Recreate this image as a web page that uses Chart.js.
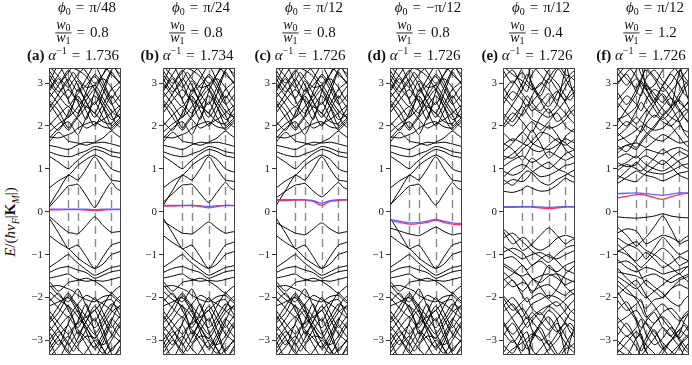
<!DOCTYPE html>
<html><head><meta charset="utf-8">
<script src="https://cdn.jsdelivr.net/npm/chart.js@4.4.1/dist/chart.umd.min.js"></script>
<style>
html,body{margin:0;padding:0;background:#fff;width:692px;height:365px;overflow:hidden;position:relative;}
canvas{position:absolute;top:0;}
#ylab{position:absolute;left:11px;top:222px;transform:translate(-50%,-50%) rotate(-90deg);font-family:"Liberation Serif","DejaVu Serif",serif;font-size:15px;white-space:nowrap;color:#111;}
#ylab sub{font-size:10px;}
</style></head><body>
<div id="ylab"><i>E</i>/(<i>ħv</i><sub><i>F</i></sub>|<b>K</b><sub><i>M</i></sub>|)</div>
<script>
// ---- axis data ----
const KPOS = [0, 0.268, 0.402, 0.634, 0.866, 1];
const KLAB = ['Γ', 'K', 'M', 'Γ', '-M', '-K'];
const XS = [0, 0.134, 0.268, 0.335, 0.402, 0.518, 0.634, 0.75, 0.866, 0.933, 1];
const YTICKS = [-3, -2, -1, 0, 1, 2, 3];
// ---- panel parameters ----
const LETTERS = ['a', 'b', 'c', 'd', 'e', 'f'];
const PHI = ['π/48', 'π/24', 'π/12', '−π/12', 'π/12', 'π/12'];
const RATIO = ['0.8', '0.8', '0.8', '0.8', '0.4', '1.2'];
const ALPHA = ['1.736', '1.734', '1.726', '1.726', '1.726', '1.726'];

// ---- bands shared by panels a-d ----
const abcd_c2 = [0.14, 0.50, 0.85, 0.80, 0.74, 1.00, 1.28, 1.00, 0.74, 0.72, 0.70];
const abcd_c3 = [0.55, 0.72, 0.85, 0.95, 1.08, 1.22, 1.32, 1.22, 1.00, 0.95, 0.92];
const abcd_c4 = [1.30, 1.15, 1.00, 1.10, 1.20, 1.35, 1.45, 1.40, 1.30, 1.28, 1.25];
const abcd_c5 = [1.40, 1.32, 1.28, 1.30, 1.35, 1.42, 1.52, 1.48, 1.40, 1.38, 1.36];
const abcd_c6 = [1.55, 1.50, 1.45, 1.50, 1.56, 1.62, 1.60, 1.62, 1.58, 1.55, 1.52];
const abcd_c7 = [1.62, 1.85, 1.65, 1.62, 1.60, 1.55, 1.62, 1.72, 1.88, 1.80, 1.72];
const abcd_c8 = [1.70, 1.95, 2.10, 1.95, 1.80, 2.20, 2.55, 2.20, 1.90, 2.00, 2.10];
const abcd_c9 = [2.10, 1.90, 2.30, 2.50, 2.70, 2.35, 2.00, 2.35, 2.70, 2.55, 2.40];
const abcd_c10 = [2.40, 2.75, 3.10, 2.95, 2.80, 3.10, 3.40, 3.05, 2.65, 2.80, 2.95];
const abcd_c11 = [2.80, 2.50, 2.20, 2.50, 2.85, 2.55, 2.30, 2.75, 3.25, 3.10, 2.95];
const abcd_c12 = [2.80, 3.10, 2.60, 2.40, 2.30, 2.60, 2.85, 2.55, 2.25, 2.05, 1.95];
const abcd_c13 = [2.85, 3.20, 3.50, 3.35, 3.30, 3.15, 2.85, 2.45, 2.00, 2.10, 2.20];
const abcd_c14 = [3.20, 2.90, 2.65, 2.85, 3.05, 2.75, 2.50, 2.90, 3.30, 3.40, 3.50];
const abcd_c15 = [2.00, 2.25, 2.45, 2.30, 2.15, 1.95, 2.05, 2.15, 2.30, 2.40, 2.50];
const abcd_c16 = [3.40, 3.15, 2.90, 3.05, 3.20, 3.40, 3.60, 3.45, 3.20, 3.10, 3.00];
const abcd_c17 = [2.60, 2.35, 1.95, 2.10, 2.25, 2.80, 3.20, 2.95, 2.55, 2.30, 2.15];
const abcd_c18 = [3.00, 3.40, 3.00, 2.75, 2.55, 2.15, 2.80, 3.20, 3.55, 3.30, 3.10];
const abcd_c19 = [1.85, 2.05, 2.20, 2.30, 2.45, 2.70, 2.95, 2.65, 2.35, 2.25, 2.20];
const abcd_c20 = [2.30, 2.60, 2.85, 2.70, 2.60, 2.45, 2.30, 2.10, 2.05, 2.25, 2.45];
const abcd_c21 = [3.00, 2.70, 2.45, 2.60, 2.75, 2.95, 3.15, 2.85, 2.50, 2.60, 2.75];
const abcd_c22 = [3.30, 3.00, 3.25, 3.40, 3.50, 3.25, 3.00, 3.20, 3.45, 3.30, 3.20];
const abcd_c23 = [2.65, 2.95, 3.30, 3.15, 2.95, 2.55, 2.20, 2.50, 2.85, 2.95, 3.05];
const abcd_c24 = [1.75, 1.72, 1.80, 1.85, 1.95, 2.05, 2.10, 1.98, 1.95, 2.05, 2.15];
const abcd_c25 = [2.55, 2.20, 1.90, 2.05, 2.20, 2.45, 2.70, 2.45, 2.15, 2.20, 2.30];
const abcd_c26 = [3.10, 2.80, 3.05, 3.25, 3.10, 2.90, 2.95, 3.10, 2.90, 2.70, 2.55];
const abcd_v2 = [-0.14, -0.50, -0.86, -0.82, -0.78, -1.05, -1.32, -1.05, -0.78, -0.74, -0.70];
const abcd_v3 = [-0.55, -0.72, -0.86, -0.96, -1.08, -1.22, -1.32, -1.22, -1.00, -0.96, -0.92];
const abcd_v4 = [-1.30, -1.15, -1.00, -1.10, -1.20, -1.35, -1.48, -1.40, -1.30, -1.28, -1.25];
const abcd_v5 = [-1.42, -1.32, -1.28, -1.32, -1.36, -1.42, -1.55, -1.48, -1.40, -1.38, -1.36];
const abcd_v6 = [-1.55, -1.50, -1.45, -1.52, -1.58, -1.62, -1.60, -1.62, -1.58, -1.55, -1.52];
const abcd_v7 = [-1.62, -1.85, -1.65, -1.62, -1.60, -1.55, -1.62, -1.75, -1.90, -1.80, -1.72];
const abcd_v8 = [-1.70, -1.95, -2.10, -1.95, -1.80, -2.20, -2.55, -2.20, -1.90, -2.00, -2.10];
const abcd_v9 = [-2.10, -1.90, -2.30, -2.50, -2.70, -2.35, -2.00, -2.35, -2.70, -2.55, -2.40];
const abcd_v10 = [-2.40, -2.75, -3.10, -2.95, -2.80, -3.10, -3.40, -3.05, -2.65, -2.80, -2.95];
const abcd_v11 = [-2.80, -2.50, -2.20, -2.50, -2.85, -2.55, -2.30, -2.75, -3.25, -3.10, -2.95];
const abcd_v12 = [-2.80, -3.10, -2.60, -2.40, -2.30, -2.60, -2.85, -2.55, -2.25, -2.05, -1.95];
const abcd_v13 = [-2.20, -2.10, -2.00, -2.15, -2.35, -2.70, -3.05, -3.30, -3.00, -2.80, -2.60];
const abcd_v14 = [-3.20, -2.90, -2.65, -2.85, -3.05, -2.75, -2.50, -2.90, -3.30, -3.40, -3.50];
const abcd_v15 = [-2.00, -2.25, -2.45, -2.30, -2.15, -1.95, -2.05, -2.15, -2.30, -2.40, -2.50];
const abcd_v16 = [-3.40, -3.15, -2.90, -3.05, -3.20, -3.40, -3.60, -3.45, -3.20, -3.10, -3.00];
const abcd_v17 = [-2.60, -2.35, -1.95, -2.10, -2.25, -2.80, -3.20, -2.95, -2.55, -2.30, -2.15];
const abcd_v18 = [-3.00, -3.40, -3.00, -2.75, -2.55, -2.15, -2.80, -3.20, -3.55, -3.30, -3.10];
const abcd_v19 = [-1.85, -2.05, -2.20, -2.30, -2.45, -2.70, -2.95, -2.65, -2.35, -2.25, -2.20];
const abcd_v20 = [-2.30, -2.60, -2.85, -2.70, -2.60, -2.45, -2.30, -2.10, -2.05, -2.25, -2.45];
const abcd_v21 = [-3.00, -2.70, -2.45, -2.60, -2.75, -2.95, -3.15, -2.85, -2.50, -2.60, -2.75];
const abcd_v22 = [-3.30, -3.00, -3.25, -3.40, -3.50, -3.25, -3.00, -3.20, -3.45, -3.30, -3.20];
const abcd_v23 = [-2.65, -2.95, -3.30, -3.15, -2.95, -2.55, -2.20, -2.50, -2.85, -2.95, -3.05];
const abcd_v24 = [-1.75, -1.72, -1.80, -1.85, -1.95, -2.05, -2.10, -1.98, -1.95, -2.05, -2.15];
const abcd_v25 = [-2.55, -2.20, -1.90, -2.05, -2.20, -2.45, -2.70, -2.45, -2.15, -2.20, -2.30];
const abcd_v26 = [-3.10, -2.80, -3.05, -3.25, -3.10, -2.90, -2.95, -3.10, -2.90, -2.70, -2.55];
// lowest bands, per panel
const a_c1 = [0.10, 0.35, 0.60, 0.62, 0.64, 0.37, 0.10, 0.40, 0.68, 0.55, 0.48];
const a_v1 = [-0.10, -0.30, -0.48, -0.50, -0.52, -0.32, -0.12, -0.32, -0.48, -0.47, -0.46];
const b_c1 = [0.22, 0.42, 0.62, 0.63, 0.64, 0.42, 0.22, 0.45, 0.68, 0.56, 0.50];
const b_v1 = [-0.22, -0.36, -0.50, -0.51, -0.52, -0.38, -0.24, -0.38, -0.50, -0.48, -0.46];
const c_c1 = [0.32, 0.48, 0.62, 0.64, 0.66, 0.48, 0.35, 0.50, 0.68, 0.57, 0.52];
const c_v1 = [-0.25, -0.38, -0.50, -0.52, -0.54, -0.40, -0.26, -0.40, -0.50, -0.48, -0.46];
const d_c1 = [0.16, 0.38, 0.60, 0.62, 0.64, 0.40, 0.16, 0.42, 0.68, 0.56, 0.50];
const d_v1 = [-0.38, -0.45, -0.52, -0.54, -0.56, -0.46, -0.36, -0.46, -0.54, -0.52, -0.50];

// ---- panel e bands ----
const e_c1 = [0.48, 0.45, 0.52, 0.60, 0.55, 0.48, 0.50, 0.62, 0.78, 0.72, 0.68];
const e_c2 = [0.75, 0.62, 0.85, 0.95, 0.90, 0.70, 0.62, 0.75, 0.85, 0.92, 0.98];
const e_c3 = [0.80, 1.00, 1.10, 1.05, 0.95, 0.82, 0.85, 0.95, 1.08, 1.10, 1.15];
const e_c4 = [1.05, 1.20, 1.30, 1.22, 1.15, 1.25, 1.40, 1.30, 1.20, 1.25, 1.30];
const e_c5 = [1.30, 1.25, 1.45, 1.55, 1.45, 1.40, 1.55, 1.70, 1.60, 1.50, 1.45];
const e_c6 = [1.55, 1.70, 1.60, 1.55, 1.65, 1.85, 1.80, 1.65, 1.55, 1.62, 1.70];
const e_c7 = [1.85, 1.65, 1.85, 2.00, 2.10, 1.90, 2.10, 2.30, 2.00, 1.90, 1.85];
const e_c8 = [2.00, 2.30, 2.10, 1.95, 1.85, 2.20, 2.40, 2.10, 2.25, 2.40, 2.50];
const e_c9 = [2.30, 2.10, 2.50, 2.70, 2.55, 2.35, 2.60, 2.80, 2.55, 2.35, 2.20];
const e_c10 = [2.50, 2.80, 2.60, 2.45, 2.70, 3.00, 2.85, 2.60, 2.90, 3.10, 3.20];
const e_c11 = [2.90, 2.60, 3.00, 3.20, 3.00, 2.70, 3.10, 3.35, 3.10, 2.90, 2.80];
const e_c12 = [3.10, 3.30, 2.90, 2.80, 3.20, 3.40, 3.20, 3.00, 2.70, 2.60, 2.75];
const e_c13 = [3.30, 3.00, 3.35, 3.50, 2.95, 2.60, 2.30, 2.50, 3.30, 3.45, 3.40];
const e_c14 = [2.15, 2.50, 2.85, 3.10, 3.40, 3.20, 3.00, 3.30, 3.45, 3.00, 2.65];
const e_c15 = [1.60, 1.45, 1.20, 1.35, 1.55, 1.75, 2.00, 1.80, 1.45, 1.35, 1.25];
const e_c16 = [1.95, 2.20, 2.45, 2.30, 2.15, 2.05, 1.95, 2.00, 2.15, 2.30, 2.40];
const e_c17 = [2.70, 2.45, 2.25, 2.40, 2.55, 2.80, 3.10, 2.85, 2.60, 2.70, 2.80];
const e_c18 = [3.40, 3.20, 3.05, 2.95, 2.85, 2.95, 3.30, 3.45, 3.20, 3.15, 3.05];
const e_c19 = [1.20, 1.35, 1.55, 1.70, 1.90, 1.60, 1.25, 1.45, 1.75, 1.85, 1.95];
const e_c20 = [2.60, 2.95, 3.25, 3.05, 2.90, 2.65, 2.45, 2.75, 3.05, 3.20, 3.30];
const e_c21 = [0.95, 0.85, 0.95, 1.10, 1.25, 1.10, 1.00, 1.15, 1.35, 1.40, 1.45];
const e_c22 = [2.20, 2.00, 2.30, 2.50, 2.35, 2.55, 2.75, 2.50, 2.30, 2.15, 2.05];
const e_c23 = [0.62, 0.75, 0.70, 0.78, 0.92, 1.05, 1.15, 1.00, 0.92, 0.85, 0.80];
const e_c24 = [1.40, 1.60, 1.85, 1.75, 1.60, 1.50, 1.45, 1.55, 1.70, 1.65, 1.60];
const e_c25 = [2.80, 3.05, 2.75, 2.60, 2.45, 2.30, 2.20, 2.35, 2.60, 2.80, 2.95];
const e_v1 = [-0.40, -0.60, -0.90, -0.85, -0.75, -0.55, -0.38, -0.55, -0.75, -0.68, -0.62];
const e_v2 = [-0.45, -0.75, -0.60, -0.65, -0.80, -0.90, -0.80, -0.62, -0.55, -0.58, -0.62];
const e_v3 = [-0.80, -0.95, -1.10, -1.05, -1.00, -0.95, -1.05, -1.10, -1.00, -0.95, -0.90];
const e_v4 = [-1.10, -1.05, -1.25, -1.35, -1.25, -1.15, -1.30, -1.40, -1.25, -1.20, -1.15];
const e_v5 = [-1.25, -1.40, -1.50, -1.45, -1.55, -1.65, -1.50, -1.45, -1.55, -1.60, -1.65];
const e_v6 = [-1.55, -1.75, -1.65, -1.70, -1.85, -1.75, -1.70, -1.85, -1.95, -1.85, -1.80];
const e_v7 = [-1.80, -1.60, -1.95, -2.10, -2.00, -1.90, -2.05, -2.20, -2.05, -1.95, -1.90];
const e_v8 = [-2.00, -2.30, -2.10, -2.00, -2.25, -2.40, -2.20, -2.10, -2.35, -2.50, -2.55];
const e_v9 = [-2.35, -2.15, -2.50, -2.70, -2.55, -2.35, -2.60, -2.80, -2.55, -2.35, -2.25];
const e_v10 = [-2.55, -2.85, -2.60, -2.45, -2.75, -3.00, -2.85, -2.60, -2.90, -3.10, -3.20];
const e_v11 = [-2.90, -2.60, -3.00, -3.20, -3.00, -2.70, -3.10, -3.35, -3.10, -2.90, -2.80];
const e_v12 = [-3.10, -3.30, -2.90, -2.80, -3.20, -3.40, -3.20, -3.00, -2.70, -2.60, -2.75];
const e_v13 = [-3.30, -3.00, -3.35, -3.50, -2.95, -2.60, -2.30, -2.50, -3.30, -3.45, -3.40];
const e_v14 = [-2.15, -2.50, -2.85, -3.10, -3.40, -3.20, -3.00, -3.30, -3.45, -3.00, -2.65];
const e_v15 = [-1.60, -1.45, -1.25, -1.40, -1.55, -1.75, -2.00, -1.80, -1.45, -1.35, -1.25];
const e_v16 = [-1.95, -2.20, -2.45, -2.30, -2.15, -2.05, -1.95, -2.00, -2.15, -2.30, -2.40];
const e_v17 = [-2.70, -2.45, -2.25, -2.40, -2.55, -2.80, -3.10, -2.85, -2.60, -2.70, -2.80];
const e_v18 = [-3.40, -3.20, -3.05, -2.95, -2.85, -2.95, -3.30, -3.45, -3.20, -3.15, -3.05];
const e_v19 = [-1.20, -1.35, -1.55, -1.70, -1.90, -1.60, -1.25, -1.45, -1.75, -1.85, -1.95];
const e_v20 = [-2.60, -2.95, -3.25, -3.05, -2.90, -2.65, -2.45, -2.75, -3.05, -3.20, -3.30];
const e_v21 = [-0.95, -0.85, -0.95, -1.10, -1.25, -1.10, -1.00, -1.15, -1.35, -1.40, -1.45];
const e_v22 = [-2.20, -2.00, -2.30, -2.50, -2.35, -2.55, -2.75, -2.50, -2.30, -2.15, -2.05];
const e_v23 = [-0.62, -0.50, -0.70, -0.80, -0.92, -1.05, -1.18, -1.00, -0.85, -0.80, -0.78];
const e_v24 = [-1.40, -1.60, -1.85, -1.75, -1.60, -1.50, -1.45, -1.55, -1.70, -1.65, -1.60];
const e_v25 = [-2.80, -3.05, -2.75, -2.60, -2.45, -2.30, -2.20, -2.35, -2.60, -2.80, -2.95];

// ---- panel f bands ----
const f_c1 = [0.65, 0.80, 0.95, 0.90, 0.85, 0.80, 0.72, 0.80, 0.90, 0.92, 0.95];
const f_c2 = [0.85, 0.75, 0.70, 0.80, 0.90, 1.05, 1.20, 1.05, 0.85, 0.80, 0.75];
const f_c3 = [1.05, 1.15, 1.30, 1.20, 1.10, 1.00, 0.95, 1.05, 1.20, 1.25, 1.30];
const f_c4 = [1.25, 1.35, 1.25, 1.35, 1.45, 1.40, 1.35, 1.45, 1.50, 1.45, 1.40];
const f_c5 = [1.45, 1.55, 1.60, 1.55, 1.50, 1.65, 1.80, 1.70, 1.60, 1.62, 1.65];
const f_c6 = [1.65, 1.75, 1.90, 2.00, 1.85, 1.70, 1.65, 1.80, 2.00, 1.90, 1.85];
const f_c7 = [1.90, 2.10, 1.95, 1.85, 2.05, 2.25, 2.10, 2.00, 2.20, 2.35, 2.40];
const f_c8 = [2.20, 2.00, 2.35, 2.55, 2.40, 2.20, 2.45, 2.65, 2.40, 2.20, 2.10];
const f_c9 = [2.40, 2.70, 2.50, 2.35, 2.60, 2.85, 2.70, 2.45, 2.75, 2.95, 3.05];
const f_c10 = [2.80, 2.50, 2.85, 3.05, 2.85, 2.55, 2.95, 3.20, 2.95, 2.75, 2.65];
const f_c11 = [3.00, 3.20, 2.80, 2.70, 3.10, 3.30, 3.05, 2.85, 2.55, 2.45, 2.60];
const f_c12 = [3.25, 2.95, 3.30, 3.45, 2.90, 2.55, 2.25, 2.45, 3.25, 3.40, 3.35];
const f_c13 = [2.05, 2.40, 2.75, 3.05, 3.35, 3.15, 2.95, 3.25, 3.40, 2.95, 2.55];
const f_c14 = [1.55, 1.40, 1.70, 1.90, 2.20, 2.50, 2.75, 2.45, 2.10, 1.85, 1.70];
const f_c15 = [0.75, 0.95, 1.15, 1.05, 0.95, 0.90, 0.88, 0.95, 1.05, 1.10, 1.12];
const f_c16 = [1.15, 1.05, 1.10, 1.25, 1.30, 1.20, 1.10, 1.25, 1.40, 1.35, 1.30];
const f_c17 = [1.75, 1.95, 2.20, 2.10, 2.00, 1.90, 1.95, 2.15, 2.35, 2.20, 2.05];
const f_c18 = [2.55, 2.30, 2.05, 2.20, 2.35, 2.60, 2.90, 2.65, 2.35, 2.45, 2.55];
const f_c19 = [2.95, 3.25, 3.45, 3.20, 3.00, 2.75, 2.55, 2.80, 3.05, 3.20, 3.35];
const f_c20 = [3.35, 3.10, 2.90, 3.10, 3.30, 3.10, 2.80, 3.00, 3.30, 3.15, 3.00];
const f_c21 = [1.35, 1.55, 1.45, 1.60, 1.75, 1.95, 2.20, 2.00, 1.75, 1.60, 1.50];
const f_c22 = [2.15, 2.25, 2.45, 2.75, 2.95, 2.65, 2.40, 2.20, 2.10, 2.25, 2.35];
const f_c23 = [0.95, 1.10, 1.00, 0.95, 1.05, 1.25, 1.45, 1.30, 1.15, 1.05, 1.00];
const f_c24 = [1.85, 1.65, 1.50, 1.65, 1.80, 2.00, 2.25, 2.45, 2.60, 2.45, 2.30];
const f_c25 = [2.60, 2.85, 3.10, 2.90, 2.70, 2.40, 2.15, 2.35, 2.65, 2.85, 3.00];
const f_c26 = [3.15, 3.40, 3.15, 3.00, 2.85, 2.95, 3.30, 3.45, 3.20, 3.05, 2.95];
const f_v1 = [-0.12, -0.14, -0.15, -0.14, -0.13, -0.10, -0.05, -0.10, -0.13, -0.14, -0.14];
const f_v2 = [-0.35, -0.55, -0.80, -0.70, -0.60, -0.35, -0.10, -0.40, -0.75, -0.70, -0.65];
const f_v3 = [-0.60, -0.75, -0.85, -0.95, -1.10, -0.85, -0.60, -0.80, -1.00, -0.95, -0.90];
const f_v4 = [-0.90, -1.00, -1.15, -1.05, -0.95, -1.10, -1.30, -1.20, -1.05, -1.10, -1.15];
const f_v5 = [-1.10, -1.30, -1.40, -1.35, -1.30, -1.35, -1.45, -1.40, -1.35, -1.30, -1.28];
const f_v6 = [-1.40, -1.45, -1.50, -1.55, -1.50, -1.45, -1.55, -1.65, -1.55, -1.50, -1.45];
const f_v7 = [-1.50, -1.65, -1.80, -1.70, -1.60, -1.75, -1.90, -2.10, -2.20, -2.05, -1.95];
const f_v8 = [-1.70, -1.90, -2.00, -2.10, -2.25, -2.05, -2.00, -1.80, -1.70, -1.75, -1.80];
const f_v9 = [-2.05, -2.30, -2.15, -2.05, -2.40, -2.60, -2.35, -2.25, -2.45, -2.60, -2.70];
const f_v10 = [-2.30, -2.10, -2.50, -2.70, -2.55, -2.35, -2.70, -2.90, -2.60, -2.40, -2.30];
const f_v11 = [-2.65, -2.90, -2.70, -2.50, -2.85, -3.10, -2.95, -2.70, -3.00, -3.20, -3.30];
const f_v12 = [-2.90, -2.60, -3.00, -3.25, -3.05, -2.75, -3.15, -3.40, -3.15, -2.95, -2.85];
const f_v13 = [-3.20, -3.35, -2.95, -2.85, -3.25, -3.45, -3.20, -3.00, -2.75, -2.65, -2.80];
const f_v14 = [-1.85, -2.20, -2.55, -2.90, -3.25, -3.45, -3.30, -3.00, -2.85, -2.55, -2.35];
const f_v15 = [-0.50, -0.40, -0.45, -0.60, -0.75, -0.65, -0.55, -0.60, -0.70, -0.62, -0.55];
const f_v16 = [-0.75, -0.95, -1.20, -1.30, -1.20, -1.00, -0.85, -1.00, -1.25, -1.20, -1.15];
const f_v17 = [-1.20, -1.15, -1.30, -1.50, -1.70, -1.85, -2.00, -1.80, -1.60, -1.55, -1.50];
const f_v18 = [-1.60, -1.80, -2.05, -2.25, -2.45, -2.30, -2.15, -2.35, -2.55, -2.45, -2.35];
const f_v19 = [-2.45, -2.70, -2.95, -2.75, -2.60, -2.80, -3.05, -3.25, -3.40, -3.20, -3.05];
const f_v20 = [-3.00, -3.20, -3.40, -3.15, -2.95, -2.60, -2.45, -2.65, -2.95, -3.10, -3.25];
const f_v21 = [-1.95, -1.75, -1.60, -1.75, -1.95, -2.20, -2.50, -2.75, -2.95, -2.80, -2.65];
const f_v22 = [-3.30, -3.05, -2.80, -2.95, -3.10, -3.30, -3.50, -3.30, -3.10, -3.00, -2.90];
const f_v23 = [-0.95, -0.80, -0.70, -0.80, -0.90, -1.00, -1.15, -1.30, -1.45, -1.35, -1.25];
const f_v24 = [-1.30, -1.55, -1.75, -1.90, -2.00, -1.85, -1.70, -1.55, -1.45, -1.55, -1.65];
const f_v25 = [-2.60, -2.45, -2.30, -2.45, -2.60, -2.90, -3.20, -3.00, -2.75, -2.85, -2.95];
const f_v26 = [-3.15, -2.90, -3.15, -3.35, -3.20, -2.95, -2.70, -2.90, -3.15, -3.35, -3.45];

// ---- flat bands (blue / red) per panel ----
const a_blue = [0.06, 0.06, 0.06, 0.06, 0.06, 0.06, 0.05, 0.06, 0.06, 0.06, 0.06];
const a_red = [0.04, 0.045, 0.05, 0.05, 0.05, 0.04, 0.02, 0.04, 0.05, 0.05, 0.05];
const b_blue = [0.15, 0.15, 0.15, 0.15, 0.15, 0.14, 0.12, 0.14, 0.15, 0.15, 0.15];
const b_red = [0.13, 0.13, 0.14, 0.14, 0.14, 0.12, 0.09, 0.12, 0.14, 0.14, 0.14];
const c_blue = [0.28, 0.28, 0.28, 0.28, 0.28, 0.26, 0.20, 0.26, 0.28, 0.28, 0.28];
const c_red = [0.26, 0.26, 0.27, 0.27, 0.27, 0.24, 0.15, 0.24, 0.26, 0.27, 0.27];
const d_blue = [-0.18, -0.22, -0.26, -0.26, -0.25, -0.22, -0.18, -0.22, -0.26, -0.27, -0.27];
const d_red = [-0.20, -0.25, -0.29, -0.29, -0.28, -0.25, -0.20, -0.25, -0.29, -0.30, -0.30];
const e_blue = [0.12, 0.12, 0.12, 0.12, 0.12, 0.11, 0.10, 0.11, 0.12, 0.12, 0.12];
const e_red = [0.10, 0.10, 0.11, 0.11, 0.11, 0.09, 0.07, 0.09, 0.11, 0.11, 0.11];
const f_blue = [0.42, 0.43, 0.44, 0.43, 0.42, 0.40, 0.38, 0.41, 0.44, 0.44, 0.44];
const f_red = [0.32, 0.36, 0.40, 0.40, 0.38, 0.33, 0.29, 0.35, 0.40, 0.42, 0.43];

const ABCD = [abcd_c2, abcd_c3, abcd_c4, abcd_c5, abcd_c6, abcd_c7, abcd_c8, abcd_c9, abcd_c10,
  abcd_c11, abcd_c12, abcd_c13, abcd_c14, abcd_c15, abcd_c16, abcd_c17, abcd_c18,
  abcd_c19, abcd_c20, abcd_c21, abcd_c22, abcd_c23, abcd_c24, abcd_c25, abcd_c26,
  abcd_v2, abcd_v3, abcd_v4, abcd_v5, abcd_v6, abcd_v7, abcd_v8, abcd_v9, abcd_v10,
  abcd_v11, abcd_v12, abcd_v13, abcd_v14, abcd_v15, abcd_v16, abcd_v17, abcd_v18,
  abcd_v19, abcd_v20, abcd_v21, abcd_v22, abcd_v23, abcd_v24, abcd_v25, abcd_v26];
const EB = [e_c1, e_c2, e_c3, e_c4, e_c5, e_c6, e_c7, e_c8, e_c9, e_c10, e_c11, e_c12, e_c13, e_c14,
  e_c15, e_c16, e_c17, e_c18, e_c19, e_c20, e_c21, e_c22, e_c23, e_c24, e_c25,
  e_v1, e_v2, e_v3, e_v4, e_v5, e_v6, e_v7, e_v8, e_v9, e_v10, e_v11, e_v12, e_v13, e_v14,
  e_v15, e_v16, e_v17, e_v18, e_v19, e_v20, e_v21, e_v22, e_v23, e_v24, e_v25];
const FB = [f_c1, f_c2, f_c3, f_c4, f_c5, f_c6, f_c7, f_c8, f_c9, f_c10, f_c11, f_c12, f_c13, f_c14,
  f_c15, f_c16, f_c17, f_c18, f_c19, f_c20, f_c21, f_c22, f_c23, f_c24, f_c25, f_c26,
  f_v1, f_v2, f_v3, f_v4, f_v5, f_v6, f_v7, f_v8, f_v9, f_v10, f_v11, f_v12, f_v13, f_v14,
  f_v15, f_v16, f_v17, f_v18, f_v19, f_v20, f_v21, f_v22, f_v23, f_v24, f_v25, f_v26];
const PANEL_BANDS = [
  ABCD.concat([a_c1, a_v1]), ABCD.concat([b_c1, b_v1]), ABCD.concat([c_c1, c_v1]),
  ABCD.concat([d_c1, d_v1]), EB, FB];
const PANEL_FLAT = [[a_blue, a_red], [b_blue, b_red], [c_blue, c_red], [d_blue, d_red], [e_blue, e_red], [f_blue, f_red]];

// ---- layout ----
const PLOT_LEFT = [49, 163, 276, 390, 503, 617];
const AXW = 36, PW = 73, CW = 113, CH = 365;
const SERIF = '"Liberation Serif","DejaVu Serif",serif';
const EQ = '\u2004=\u2004';

function fnt(r, def) {
  return (r.i ? 'italic ' : '') + (r.b ? 'bold ' : '') + (r.s || def) + 'px ' + SERIF;
}
function runsWidth(ctx, runs, def) {
  let w = 0;
  for (const r of runs) { ctx.font = fnt(r, def); w += ctx.measureText(r.t).width; }
  return w;
}
function drawRuns(ctx, runs, x, y, def) {
  for (const r of runs) {
    ctx.font = fnt(r, def);
    ctx.fillText(r.t, x, y + (r.dy || 0));
    x += ctx.measureText(r.t).width;
  }
  return x;
}

const panelDeco = {
  id: 'panelDeco',
  beforeDatasetsDraw(chart) {
    const { ctx, chartArea: ca, scales } = chart;
    ctx.save();
    ctx.strokeStyle = '#8a8a8a';
    ctx.lineWidth = 1.4;
    ctx.setLineDash([8, 5]);
    for (let i = 1; i < KPOS.length - 1; i++) {
      const px = Math.round(scales.x.getPixelForValue(KPOS[i])) + 0.5;
      ctx.beginPath(); ctx.moveTo(px, ca.top + 2); ctx.lineTo(px, ca.bottom); ctx.stroke();
    }
    ctx.restore();
  },
  afterDatasetsDraw(chart) {
    const { ctx, chartArea: ca } = chart;
    ctx.save();
    ctx.strokeStyle = '#444';
    ctx.lineWidth = 1;
    ctx.strokeRect(Math.round(ca.left) + 0.5, Math.round(ca.top) + 0.5, Math.round(ca.width) - 1, Math.round(ca.height) - 1);
    ctx.restore();
  },
  afterDraw(chart) {
    const i = chart.options.plugins.panelDeco.idx;
    const { ctx, chartArea: ca } = chart;
    const cx = (ca.left + ca.right) / 2;
    ctx.save();
    ctx.fillStyle = '#111';
    ctx.textBaseline = 'alphabetic';
    // line 1: phi_0 = ...
    const l1 = [{ t: 'ϕ', i: 1 }, { t: '0', s: 10, dy: 3 }, { t: EQ + PHI[i] }];
    let w = runsWidth(ctx, l1, 15);
    drawRuns(ctx, l1, cx + 2 - w / 2, 12, 15);
    // line 2: fraction w0/w1 = r
    const num = [{ t: 'w', i: 1 }, { t: '0', s: 10, dy: 2 }];
    const den = [{ t: 'w', i: 1 }, { t: '1', s: 10, dy: 2 }];
    const rest = [{ t: EQ + RATIO[i] }];
    const fw = Math.max(runsWidth(ctx, num, 14), runsWidth(ctx, den, 14)) + 2;
    const rw = runsWidth(ctx, rest, 15);
    const x0 = cx - 3 - (fw + rw) / 2;
    drawRuns(ctx, num, x0 + (fw - runsWidth(ctx, num, 14)) / 2, 29, 14);
    drawRuns(ctx, den, x0 + (fw - runsWidth(ctx, den, 14)) / 2, 42, 14);
    ctx.fillRect(x0, 32.5, fw, 0.9);
    drawRuns(ctx, rest, x0 + fw, 37, 15);
    // line 3: (x) alpha^-1 = ...
    const l3 = [{ t: '(' + LETTERS[i] + ')', b: 1 }, { t: ' ' }, { t: 'α', i: 1 }, { t: '−1', s: 10, dy: -6 }, { t: EQ + ALPHA[i] }];
    w = runsWidth(ctx, l3, 15);
    drawRuns(ctx, l3, cx - 12 - w / 2, 60, 15);
    ctx.restore();
  }
};

function makeDs(arr, color, width, tension) {
  return { data: XS.map((x, k) => ({ x: x, y: arr[k] })), borderColor: color, borderWidth: width,
    pointRadius: 0, tension: tension, fill: false };
}

for (let i = 0; i < 6; i++) {
  const cv = document.createElement('canvas');
  cv.width = CW; cv.height = CH;
  cv.style.left = (PLOT_LEFT[i] - AXW) + 'px';
  cv.style.width = CW + 'px'; cv.style.height = CH + 'px';
  document.body.appendChild(cv);
  const [blue, red] = PANEL_FLAT[i];
  const datasets = [makeDs(blue, 'rgba(90,90,255,0.95)', 1.3, 0.4), makeDs(red, 'rgba(255,40,90,0.95)', 1.3, 0.4)]
    .concat(PANEL_BANDS[i].map(b => makeDs(b, '#000', 1, 0.25)));
  new Chart(cv, {
    type: 'line',
    data: { datasets },
    options: {
      responsive: false, animation: false, devicePixelRatio: 1,
      layout: { padding: { left: 0, right: CW - AXW - PW, top: 68, bottom: 0 } },
      plugins: { legend: { display: false }, tooltip: { enabled: false }, panelDeco: { idx: i } },
      scales: {
        x: {
          type: 'linear', min: 0, max: 1,
          afterBuildTicks: s => { s.ticks = KPOS.map(v => ({ value: v })); },
          afterFit: s => { s.height = CH - 355; },
          ticks: { autoSkip: false, maxRotation: 0, minRotation: 0, padding: 0,
            font: { family: SERIF, size: 9, weight: 'bold' }, color: '#222',
            callback: (v, k) => KLAB[k] },
          grid: { display: false }, border: { display: false }
        },
        y: {
          min: -3.34, max: 3.35,
          afterBuildTicks: s => { s.ticks = YTICKS.map(v => ({ value: v })); },
          afterFit: s => { s.width = AXW; },
          ticks: { padding: 2, font: { family: SERIF, size: 11 }, color: '#222',
            callback: v => (v < 0 ? '−' + (-v) : '' + v) },
          grid: { drawOnChartArea: false, drawTicks: true, tickLength: 4, color: '#333' },
          border: { display: false }
        }
      }
    },
    plugins: [panelDeco]
  });
}
</script>
</body></html>
